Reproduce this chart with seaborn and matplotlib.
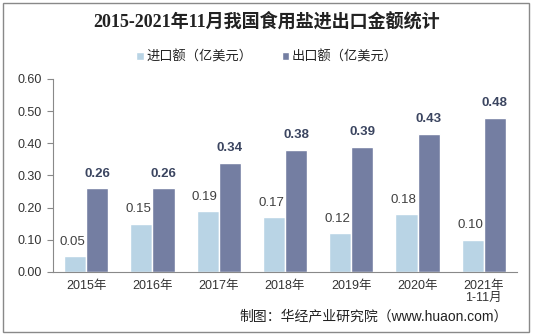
import matplotlib
matplotlib.use("Agg")
import matplotlib.pyplot as plt
import seaborn as sns
import pandas as pd
import numpy as np
from matplotlib.patches import Rectangle, Patch

categories = ["2015年", "2016年", "2017年", "2018年", "2019年", "2020年", "2021年\n1-11月"]
import_vals = [0.05, 0.15, 0.19, 0.17, 0.12, 0.18, 0.10]
export_vals = [0.26, 0.26, 0.34, 0.38, 0.39, 0.43, 0.48]
series_names = ["进口额（亿美元）", "出口额（亿美元）"]
yticks = [0.0, 0.1, 0.2, 0.3, 0.4, 0.5, 0.6]

sns.set_theme(style="white")
plt.rcParams['font.family'] = ['Liberation Sans', 'Noto Sans CJK SC', 'DejaVu Sans']

df = pd.DataFrame({
    "cat": categories * 2,
    "val": import_vals + export_vals,
    "series": [series_names[0]] * len(categories) + [series_names[1]] * len(categories),
})

colors = ["#b9d4e5", "#747ea2"]
fig = plt.figure(figsize=(5.34, 3.36), dpi=100)
ax = fig.add_axes([0.0993, 0.1905, 0.8687, 0.5745])
sns.barplot(data=df, x="cat", y="val", hue="series", palette=colors,
            width=0.667, ax=ax, legend=False, saturation=1)

ax.set_ylim(0, 0.6)
ax.set_xlim(-0.5, len(categories) - 0.5)
ax.set_yticks(yticks)
ax.set_yticklabels([f"{v:.2f}" for v in yticks], fontsize=9, color="#333333")
ax.set_xticks(range(len(categories)))
ax.set_xticklabels(categories, fontsize=9, color="#333333", linespacing=1.0)
ax.set_xticks(np.arange(-0.5, len(categories), 1), minor=True)
ax.tick_params(axis="x", which="major", length=0, pad=6)
ax.tick_params(axis="x", which="minor", length=4, color="#898989", width=0.8, direction="out")
ax.tick_params(axis="y", length=4, color="#898989", width=0.8, direction="out", pad=4, left=True)
ax.set_xlabel("")
ax.set_ylabel("")
for s in ["top", "right"]:
    ax.spines[s].set_visible(False)
for s in ["left", "bottom"]:
    ax.spines[s].set_color("#898989")
    ax.spines[s].set_linewidth(0.8)

# data labels
for i, c in enumerate(ax.containers):
    vals = import_vals if i == 0 else export_vals
    for rect, v in zip(c, vals):
        x = rect.get_x() + rect.get_width() / 2
        h = rect.get_height()
        if i == 0:
            ax.annotate(f"{v:.2f}", (x, h), xytext=(-2, 6), textcoords="offset points",
                        ha="center", va="bottom", fontsize=9.5, color="#404040")
        else:
            ax.annotate(f"{v:.2f}", (x, h), xytext=(0, 6), textcoords="offset points",
                        ha="center", va="bottom", fontsize=9.5, color="#3b4560",
                        fontweight="bold")

# legend
handles = [Patch(facecolor=colors[0]), Patch(facecolor=colors[1])]
fig.legend(handles, series_names, loc="center", bbox_to_anchor=(0.5, 0.83), ncol=2,
           frameon=False, fontsize=9.5, handlelength=0.6, handleheight=0.6,
           handletextpad=0.2, columnspacing=2.2, labelcolor="#222222")

fig.text(0.5, 0.935, "2015-2021年11月我国食用盐进出口金额统计", ha="center", va="center",
         fontsize=13, fontweight="bold", color="#222222",
         family=['Liberation Serif', 'Noto Sans CJK SC', 'DejaVu Sans'])
fig.text(0.95, 0.057, "制图：华经产业研究院（www.huaon.com）", ha="right", va="center",
         fontsize=10, color="#222222")

fig.patches.append(Rectangle((0.006, 0.012), 0.985, 0.979, transform=fig.transFigure,
                             fill=False, edgecolor="#898989", linewidth=1.0))

fig.savefig("out.png", dpi=100)
